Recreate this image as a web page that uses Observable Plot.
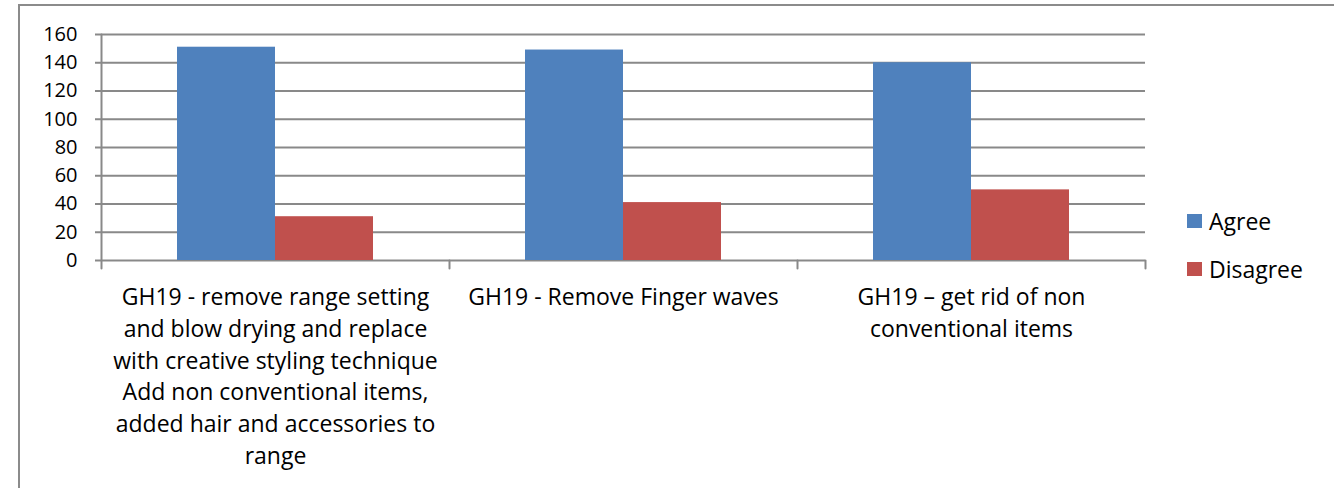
<!DOCTYPE html>
<html>
<head>
<meta charset="utf-8">
<script src="https://cdn.jsdelivr.net/npm/d3@7"></script>
<script src="https://cdn.jsdelivr.net/npm/@observablehq/plot@0.6"></script>
<style>
  html, body { margin: 0; padding: 0; background: #fff; overflow: hidden; }
  #wrap { position: relative; width: 1334px; height: 488px; overflow: hidden; font-family: "Open Sans", sans-serif; }
  #border { position: absolute; left: 18px; top: 4px; width: 1400px; height: 600px; border: 2px solid #8b8b8b; box-sizing: border-box; }
  #chart { position: absolute; left: 0; top: 0; }
  #legend { position: absolute; left: 1187px; top: 197px; font-size: 23px; color: #000; }
  .item { display: flex; align-items: center; height: 48px; }
  .sw { width: 15px; height: 14px; margin-right: 7px; }
</style>
</head>
<body>
<div id="wrap">
  <div id="border"></div>
  <div id="chart"></div>
  <div id="legend"></div>
</div>
<script>
// ---- data ----
const categories = [
  "GH19 - remove range setting and blow drying and replace with creative styling technique Add non conventional items, added hair and accessories to range",
  "GH19 - Remove Finger waves",
  "GH19 – get rid of non conventional items"
];
const categoryLabels = [
  "GH19 - remove range setting\nand blow drying and replace\nwith creative styling technique\nAdd non conventional items,\nadded hair and accessories to\nrange",
  "GH19 - Remove Finger waves",
  "GH19 – get rid of non\nconventional items"
];
const series = ["Agree", "Disagree"];
const agree = [151, 149, 140];
const disagree = [31, 41, 50];
const yTicks = [0, 20, 40, 60, 80, 100, 120, 140, 160];
const colors = ["#4F81BD", "#C0504D"];

// ---- table ----
const values = [agree, disagree];
const data = [];
categories.forEach((c, i) => series.forEach((s, j) => data.push({category: c, series: s, value: values[j][i]})));
const labelOf = new Map(categories.map((c, i) => [c, categoryLabels[i]]));

// ---- layout ----
const W = 1334, H = 488;
const ml = 101, mr = 189, mt = 34, mb = 228;
const innerH = H - mt - mb;
const gridColor = "#898989";
const tickLen = 8;
const tickShape = {draw(context, l) { context.moveTo(0, 0); context.lineTo(0, -l); }};
const tickOpts = {fx: d => d, shape: tickShape, rotate: 180, anchor: "start", stroke: gridColor, strokeWidth: 2};

const chart = Plot.plot({
  width: W, height: H,
  marginLeft: ml, marginRight: mr, marginTop: mt, marginBottom: mb,
  style: {fontFamily: "'Open Sans', sans-serif", fontSize: "23px", color: "#000", background: "transparent", overflow: "visible"},
  fx: {domain: categories, padding: 0, label: null},
  x: {domain: series, paddingInner: 0, paddingOuter: 0.76, axis: null},
  y: {domain: [0, 160], label: null},
  color: {domain: series, range: colors},
  marks: [
    Plot.gridY(yTicks, {stroke: gridColor, strokeOpacity: 1, strokeWidth: 2}),
    Plot.barY(data, {fx: "category", x: "series", y: "value", fill: "series"}),
    Plot.axisY(yTicks, {anchor: "left", tickSize: 6, tickPadding: 18, stroke: gridColor, strokeWidth: 2, fontSize: 20, label: null}),
    Plot.axisFx({anchor: "bottom", tickSize: 0, tickPadding: 22, tickFormat: d => labelOf.get(d), lineHeight: 1.38, fontSize: 23, label: null}),
    // vertical axis line (left edge of the first group)
    Plot.vector(categories.slice(0, 1), {...tickOpts, frameAnchor: "top-left", length: innerH + tickLen}),
    // category boundary ticks
    Plot.vector(categories.slice(1), {...tickOpts, frameAnchor: "bottom-left", length: tickLen}),
    Plot.vector(categories.slice(-1), {...tickOpts, frameAnchor: "bottom-right", length: tickLen})
  ]
});
document.getElementById("chart").appendChild(chart);

// ---- legend ----
const legend = document.getElementById("legend");
series.forEach((s, i) => {
  const item = document.createElement("div");
  item.className = "item";
  const sw = document.createElement("div");
  sw.className = "sw";
  sw.style.background = colors[i];
  const t = document.createElement("span");
  t.textContent = s;
  item.appendChild(sw);
  item.appendChild(t);
  legend.appendChild(item);
});
</script>
</body>
</html>
